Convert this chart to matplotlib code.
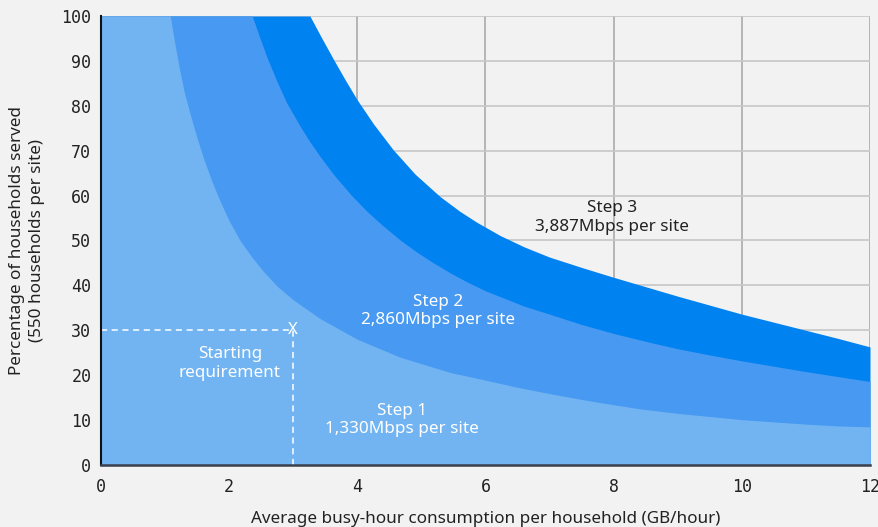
import matplotlib
matplotlib.use("Agg")
import matplotlib.pyplot as plt

# Data
step1_x = [0, 1.08, 1.15, 1.23, 1.3, 1.39, 1.5, 1.6, 1.73, 1.86, 2.0, 2.17, 2.35, 2.53, 2.75, 3.0, 3.42, 4.0, 4.67,
           5.45, 6.0, 6.5, 7.0, 7.5, 7.79, 8.41, 9.0, 9.5, 10.0, 10.5, 11.0, 11.5, 12.0]
step1_y = [100, 100, 94, 87.8, 83, 78.2, 72.8, 68.3, 63.2, 58.7, 54.4, 50.0, 46.4, 43.2, 39.8, 36.8, 32.6, 28.0, 24.0,
           20.6, 18.9, 17.3, 15.9, 14.6, 13.9, 12.5, 11.5, 10.8, 10.1, 9.6, 9.1, 8.7, 8.5]

step2_x = [0, 2.36, 2.47, 2.59, 2.75, 2.9, 3.11, 3.25, 3.42, 3.63, 3.9, 4.15, 4.4, 4.67, 4.93, 5.19, 5.45, 5.71,
           6.0, 6.23, 6.6, 7.0, 7.5, 8.0, 8.57, 9.0, 9.5, 10.0, 10.5, 11.0, 11.5, 12.0]
step2_y = [100, 100, 95.5, 90.8, 85.3, 80.6, 75.4, 72.2, 68.7, 64.7, 60.2, 56.5, 53.3, 50.1, 47.4, 45.0, 42.8, 40.8,
           38.8, 37.5, 35.4, 33.6, 31.3, 29.3, 27.3, 25.9, 24.5, 23.2, 22.0, 20.8, 19.7, 18.6]

step3_x = [0, 3.26, 3.44, 3.63, 3.81, 3.99, 4.25, 4.56, 4.9, 5.29, 5.6, 5.86, 6.23, 6.6, 7.0, 7.5, 8.0, 8.5,
           9.0, 9.5, 10.0, 10.5, 11.0, 11.5, 12.0]
step3_y = [100, 100, 95.2, 90.3, 85.8, 81.5, 76.0, 70.2, 64.8, 59.8, 56.5, 54.1, 51.1, 48.6, 46.3, 44.0, 41.8, 39.7,
           37.6, 35.6, 33.6, 31.8, 30.0, 28.2, 26.3]

labels = ["Step 1\n1,330Mbps per site", "Step 2\n2,860Mbps per site", "Step 3\n3,887Mbps per site"]
start_x, start_y = 3, 30

xticks = [0, 2, 4, 6, 8, 10, 12]
yticks = list(range(0, 101, 10))

bg = "#F2F2F2"
c_light = "#72B4F2"
c_mid = "#4799F1"
c_dark = "#0082F0"

text_font = ["Noto Sans", "DejaVu Sans"]
mono_font = ["DejaVu Sans Mono"]
fs = 12.3

fig = plt.figure(figsize=(8.79, 5.27), dpi=100, facecolor=bg)
ax = fig.add_axes([101/879, 1-465/527, (870-101)/879, (465-16)/527])
ax.set_facecolor(bg)

ax.fill_between(step3_x, 0, step3_y, color=c_dark, linewidth=0, zorder=2)
ax.fill_between(step2_x, 0, step2_y, color=c_mid, linewidth=0, zorder=3)
ax.fill_between(step1_x, 0, step1_y, color=c_light, linewidth=0, zorder=4)

ax.set_xlim(0, 12)
ax.set_ylim(0, 100)
ax.set_xticks(xticks)
ax.set_yticks(yticks)
ax.set_axisbelow(True)
ax.xaxis.grid(True, color="#ABABAB", linewidth=1.2, zorder=0)
ax.yaxis.grid(True, color="#C6C6C6", linewidth=1.2, zorder=0)

for s in ["top", "right"]:
    ax.spines[s].set_visible(False)
ax.spines["left"].set_color("#111111")
ax.spines["left"].set_linewidth(1.5)
ax.spines["left"].set_zorder(6)
ax.spines["bottom"].set_color("#3A3F4B")
ax.spines["bottom"].set_linewidth(1.8)
ax.spines["bottom"].set_zorder(6)

ax.tick_params(axis="both", length=0, labelsize=12, colors="#222222")
ax.tick_params(axis="x", pad=9)
ax.tick_params(axis="y", pad=7)
for lab in ax.get_xticklabels() + ax.get_yticklabels():
    lab.set_family(mono_font)

ax.set_xlabel("Average busy-hour consumption per household (GB/hour)",
              fontsize=fs, family=text_font, color="#222222", labelpad=11)
ax.set_ylabel("Percentage of households served\n(550 households per site)",
              fontsize=fs, family=text_font, color="#222222", labelpad=12,
              linespacing=1.3)

# Starting requirement marker
ax.plot([0, start_x], [start_y, start_y], color="white", linestyle=(0, (4, 3)),
        linewidth=1.1, zorder=5)
ax.plot([start_x, start_x], [0, start_y], color="white", linestyle=(0, (4, 3)),
        linewidth=1.1, zorder=5)
ax.text(start_x, start_y, "X", color="white", fontsize=12, family=text_font,
        ha="center", va="center", zorder=6, fontweight="light")
ax.text(2.01, 22.6, "Starting\nrequirement", color="white", fontsize=fs,
        family=text_font, ha="center", va="center", linespacing=1.2, zorder=6)

ax.text(4.7, 10.0, labels[0], color="white", fontsize=fs, family=text_font,
        ha="center", va="center", linespacing=1.2, zorder=6)
ax.text(5.26, 34.3, labels[1], color="white", fontsize=fs, family=text_font,
        ha="center", va="center", linespacing=1.2, zorder=6)
ax.text(7.97, 55.1, labels[2], color="#222222", fontsize=fs, family=text_font,
        ha="center", va="center", linespacing=1.2, zorder=6)

fig.savefig("out.png", dpi=100, facecolor=bg)
